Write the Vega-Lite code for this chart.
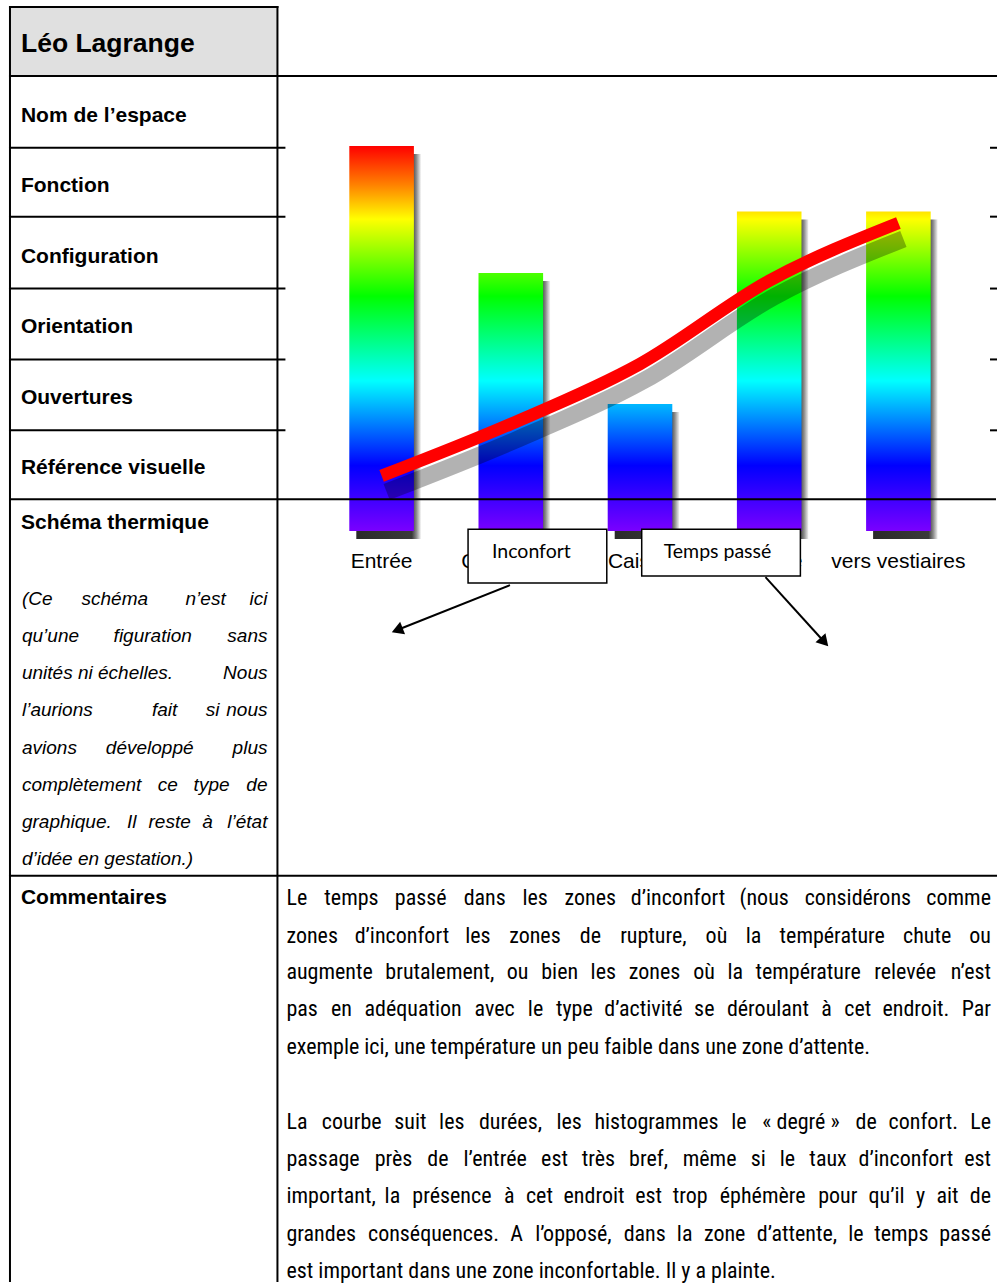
{
  "$schema": "https://vega.github.io/schema/vega-lite/v6.json",
  "width": 998,
  "height": 1283,
  "autosize": {"type": "fit", "contains": "padding"},
  "padding": 0,
  "background": "white",
  "config": {"view": {"stroke": null}, "font": "Liberation Sans"},
  "datasets": {
    "zones": [
      {"zone": "Entrée", "inconfort": 100, "duree": 14.3},
      {"zone": "Circulation", "inconfort": 67, "duree": 27.8},
      {"zone": "Caisse", "inconfort": 33, "duree": 43.4},
      {"zone": "Attente", "inconfort": 83, "duree": 65},
      {"zone": "vers vestiaires", "inconfort": 83, "duree": 80}
    ],
    "header": [{"x1": 10, "x2": 278, "y1": 7, "y2": 76, "t": "Léo Lagrange", "tx": 21, "ty": 44}],
    "rules": [
      {"x1": 10, "x2": 278, "y1": 7, "y2": 7},
      {"x1": 10, "x2": 10, "y1": 7, "y2": 1283},
      {"x1": 278, "x2": 278, "y1": 7, "y2": 1283},
      {"x1": 10, "x2": 998, "y1": 76, "y2": 76},
      {"x1": 10, "x2": 285, "y1": 148, "y2": 148},
      {"x1": 993, "x2": 998, "y1": 148, "y2": 148},
      {"x1": 10, "x2": 285, "y1": 217, "y2": 217},
      {"x1": 993, "x2": 998, "y1": 217, "y2": 217},
      {"x1": 10, "x2": 285, "y1": 289, "y2": 289},
      {"x1": 993, "x2": 998, "y1": 289, "y2": 289},
      {"x1": 10, "x2": 285, "y1": 360, "y2": 360},
      {"x1": 993, "x2": 998, "y1": 360, "y2": 360},
      {"x1": 10, "x2": 285, "y1": 431, "y2": 431},
      {"x1": 993, "x2": 998, "y1": 431, "y2": 431},
      {"x1": 10, "x2": 998, "y1": 877, "y2": 877}
    ],
    "labels": [
      {"t": "Nom de l’espace", "x": 21, "y": 116},
      {"t": "Fonction", "x": 21, "y": 186},
      {"t": "Configuration", "x": 21, "y": 257},
      {"t": "Orientation", "x": 21, "y": 328},
      {"t": "Ouvertures", "x": 21, "y": 399},
      {"t": "Référence visuelle", "x": 21, "y": 469},
      {"t": "Schéma thermique", "x": 21, "y": 524},
      {"t": "Commentaires", "x": 21, "y": 899}
    ],
    "italic": [
      {"t": "(Ce", "x": 22, "y": 600, "pos": "L"},
      {"t": "schéma", "x": 115, "y": 600, "pos": "C"},
      {"t": "n’est", "x": 206, "y": 600, "pos": "C"},
      {"t": "ici", "x": 268, "y": 600, "pos": "R"},
      {"t": "qu’une", "x": 22, "y": 637, "pos": "L"},
      {"t": "figuration", "x": 153, "y": 637, "pos": "C"},
      {"t": "sans", "x": 268, "y": 637, "pos": "R"},
      {"t": "unités ni échelles.", "x": 22, "y": 674, "pos": "L"},
      {"t": "Nous", "x": 268, "y": 674, "pos": "R"},
      {"t": "l’aurions", "x": 22, "y": 711, "pos": "L"},
      {"t": "fait", "x": 165, "y": 711, "pos": "C"},
      {"t": "si", "x": 213, "y": 711, "pos": "C"},
      {"t": "nous", "x": 268, "y": 711, "pos": "R"},
      {"t": "avions", "x": 22, "y": 749, "pos": "L"},
      {"t": "développé", "x": 150, "y": 749, "pos": "C"},
      {"t": "plus", "x": 268, "y": 749, "pos": "R"},
      {"t": "complètement", "x": 22, "y": 786, "pos": "L"},
      {"t": "ce", "x": 168, "y": 786, "pos": "C"},
      {"t": "type", "x": 212, "y": 786, "pos": "C"},
      {"t": "de", "x": 268, "y": 786, "pos": "R"},
      {"t": "graphique.", "x": 22, "y": 823, "pos": "L"},
      {"t": "Il", "x": 132, "y": 823, "pos": "C"},
      {"t": "reste", "x": 170, "y": 823, "pos": "C"},
      {"t": "à", "x": 208, "y": 823, "pos": "C"},
      {"t": "l’état", "x": 268, "y": 823, "pos": "R"},
      {"t": "d’idée en gestation.)", "x": 22, "y": 860, "pos": "L"}
    ],
    "comments": [
      {"t": "Le", "x": 287, "y": 899, "pos": "L"},
      {"t": "temps", "x": 352.2, "y": 899, "pos": "C"},
      {"t": "passé", "x": 421.6, "y": 899, "pos": "C"},
      {"t": "dans", "x": 485.7, "y": 899, "pos": "C"},
      {"t": "les", "x": 536.2, "y": 899, "pos": "C"},
      {"t": "zones", "x": 591.5, "y": 899, "pos": "C"},
      {"t": "d’inconfort", "x": 679.4, "y": 899, "pos": "C"},
      {"t": "(nous", "x": 765.7, "y": 899, "pos": "C"},
      {"t": "considérons", "x": 859.6, "y": 899, "pos": "C"},
      {"t": "comme", "x": 993, "y": 899, "pos": "R"},

      {"t": "zones", "x": 287, "y": 937, "pos": "L"},
      {"t": "d’inconfort", "x": 402.7, "y": 937, "pos": "C"},
      {"t": "les", "x": 478.9, "y": 937, "pos": "C"},
      {"t": "zones", "x": 536, "y": 937, "pos": "C"},
      {"t": "de", "x": 591.6, "y": 937, "pos": "C"},
      {"t": "rupture,", "x": 654.7, "y": 937, "pos": "C"},
      {"t": "où", "x": 717.9, "y": 937, "pos": "C"},
      {"t": "la", "x": 755, "y": 937, "pos": "C"},
      {"t": "température", "x": 833.9, "y": 937, "pos": "C"},
      {"t": "chute", "x": 929, "y": 937, "pos": "C"},
      {"t": "ou", "x": 993, "y": 937, "pos": "R"},

      {"t": "augmente", "x": 287, "y": 974, "pos": "L"},
      {"t": "brutalement,", "x": 440.7, "y": 974, "pos": "C"},
      {"t": "ou", "x": 518.6, "y": 974, "pos": "C"},
      {"t": "bien", "x": 560.8, "y": 974, "pos": "C"},
      {"t": "les", "x": 604.5, "y": 974, "pos": "C"},
      {"t": "zones", "x": 655.8, "y": 974, "pos": "C"},
      {"t": "où", "x": 705.5, "y": 974, "pos": "C"},
      {"t": "la", "x": 736.7, "y": 974, "pos": "C"},
      {"t": "température", "x": 809.7, "y": 974, "pos": "C"},
      {"t": "relevée", "x": 907, "y": 974, "pos": "C"},
      {"t": "n’est", "x": 993, "y": 974, "pos": "R"},

      {"t": "pas", "x": 287, "y": 1011, "pos": "L"},
      {"t": "en", "x": 342.1, "y": 1011, "pos": "C"},
      {"t": "adéquation", "x": 414, "y": 1011, "pos": "C"},
      {"t": "avec", "x": 495.6, "y": 1011, "pos": "C"},
      {"t": "le", "x": 536.6, "y": 1011, "pos": "C"},
      {"t": "type", "x": 575.5, "y": 1011, "pos": "C"},
      {"t": "d’activité", "x": 644.7, "y": 1011, "pos": "C"},
      {"t": "se", "x": 705.7, "y": 1011, "pos": "C"},
      {"t": "déroulant", "x": 769.5, "y": 1011, "pos": "C"},
      {"t": "à", "x": 828.3, "y": 1011, "pos": "C"},
      {"t": "cet", "x": 859.5, "y": 1011, "pos": "C"},
      {"t": "endroit.", "x": 917.7, "y": 1011, "pos": "C"},
      {"t": "Par", "x": 993, "y": 1011, "pos": "R"},

      {"t": "exemple ici, une température un peu faible dans une zone d’attente.", "x": 287, "y": 1049, "pos": "L"},

      {"t": "La", "x": 287, "y": 1124, "pos": "L"},
      {"t": "courbe", "x": 352.4, "y": 1124, "pos": "C"},
      {"t": "suit", "x": 411.2, "y": 1124, "pos": "C"},
      {"t": "les", "x": 452.7, "y": 1124, "pos": "C"},
      {"t": "durées,", "x": 511.5, "y": 1124, "pos": "C"},
      {"t": "les", "x": 570.3, "y": 1124, "pos": "C"},
      {"t": "histogrammes", "x": 657.8, "y": 1124, "pos": "C"},
      {"t": "le", "x": 740.4, "y": 1124, "pos": "C"},
      {"t": "« degré »", "x": 802.6, "y": 1124, "pos": "C"},
      {"t": "de", "x": 867.9, "y": 1124, "pos": "C"},
      {"t": "confort.", "x": 925.1, "y": 1124, "pos": "C"},
      {"t": "Le", "x": 993, "y": 1124, "pos": "R"},

      {"t": "passage", "x": 287, "y": 1161, "pos": "L"},
      {"t": "près", "x": 394.3, "y": 1161, "pos": "C"},
      {"t": "de", "x": 438.7, "y": 1161, "pos": "C"},
      {"t": "l’entrée", "x": 496.1, "y": 1161, "pos": "C"},
      {"t": "est", "x": 555.6, "y": 1161, "pos": "C"},
      {"t": "très", "x": 599.5, "y": 1161, "pos": "C"},
      {"t": "bref,", "x": 649.8, "y": 1161, "pos": "C"},
      {"t": "même", "x": 711, "y": 1161, "pos": "C"},
      {"t": "si", "x": 759.8, "y": 1161, "pos": "C"},
      {"t": "le", "x": 789, "y": 1161, "pos": "C"},
      {"t": "taux", "x": 829.7, "y": 1161, "pos": "C"},
      {"t": "d’inconfort", "x": 907.7, "y": 1161, "pos": "C"},
      {"t": "est", "x": 993, "y": 1161, "pos": "R"},

      {"t": "important,", "x": 287, "y": 1198, "pos": "L"},
      {"t": "la", "x": 393.2, "y": 1198, "pos": "C"},
      {"t": "présence", "x": 452.8, "y": 1198, "pos": "C"},
      {"t": "à", "x": 510.2, "y": 1198, "pos": "C"},
      {"t": "cet", "x": 540.5, "y": 1198, "pos": "C"},
      {"t": "endroit", "x": 595.2, "y": 1198, "pos": "C"},
      {"t": "est", "x": 649.9, "y": 1198, "pos": "C"},
      {"t": "trop", "x": 691.6, "y": 1198, "pos": "C"},
      {"t": "éphémère", "x": 764.2, "y": 1198, "pos": "C"},
      {"t": "pour", "x": 839.5, "y": 1198, "pos": "C"},
      {"t": "qu’il", "x": 888.3, "y": 1198, "pos": "C"},
      {"t": "y", "x": 922.4, "y": 1198, "pos": "C"},
      {"t": "ait", "x": 949.4, "y": 1198, "pos": "C"},
      {"t": "de", "x": 993, "y": 1198, "pos": "R"},

      {"t": "grandes", "x": 287, "y": 1236, "pos": "L"},
      {"t": "conséquences.", "x": 434.4, "y": 1236, "pos": "C"},
      {"t": "A", "x": 517.7, "y": 1236, "pos": "C"},
      {"t": "l’opposé,", "x": 574.5, "y": 1236, "pos": "C"},
      {"t": "dans", "x": 646, "y": 1236, "pos": "C"},
      {"t": "la", "x": 686, "y": 1236, "pos": "C"},
      {"t": "zone", "x": 726.1, "y": 1236, "pos": "C"},
      {"t": "d’attente,", "x": 798.6, "y": 1236, "pos": "C"},
      {"t": "le", "x": 857.6, "y": 1236, "pos": "C"},
      {"t": "temps", "x": 903.1, "y": 1236, "pos": "C"},
      {"t": "passé", "x": 993, "y": 1236, "pos": "R"},

      {"t": "est important dans une zone inconfortable. Il y a plainte.", "x": 287, "y": 1273, "pos": "L"}
    ],
    "overlayRules": [
      {"x1": 10, "x2": 998, "y1": 500, "y2": 500}
    ],
    "boxes": [
      {"x1": 469, "x2": 608, "y1": 530, "y2": 584, "t": "Inconfort", "tx": 493, "ty": 553},
      {"x1": 643, "x2": 802, "y1": 530, "y2": 577, "t": "Temps passé", "tx": 665, "ty": 553}
    ],
    "arrows": [
      {"x1": 511, "y1": 586, "x2": 398, "y2": 631, "a": "inconfort"},
      {"x1": 767, "y1": 578, "x2": 826, "y2": 643, "a": "temps"}
    ]
  },
  "layer": [
    {
      "layer": [
        {
          "data": {"name": "header"},
          "mark": {"type": "rect", "fill": "#e0e0e0"},
          "encoding": {
            "x": {"field": "x1", "type": "quantitative", "scale": {"domain": [0, 998], "nice": false, "zero": false}, "axis": null},
            "x2": {"field": "x2"},
            "y": {"field": "y1", "type": "quantitative", "scale": {"domain": [0, 1283], "nice": false, "zero": false, "reverse": true}, "axis": null},
            "y2": {"field": "y2"}
          }
        },
        {
          "data": {"name": "rules"},
          "mark": {"type": "rule", "color": "#000000", "strokeWidth": 2, "strokeCap": "square"},
          "encoding": {
            "x": {"field": "x1", "type": "quantitative", "scale": {"domain": [0, 998], "nice": false, "zero": false}, "axis": null},
            "x2": {"field": "x2"},
            "y": {"field": "y1", "type": "quantitative", "scale": {"domain": [0, 1283], "nice": false, "zero": false, "reverse": true}, "axis": null},
            "y2": {"field": "y2"}
          }
        },
        {
          "data": {"name": "header"},
          "mark": {"type": "text", "align": "left", "baseline": "middle", "fontSize": 26.5, "fontWeight": "bold", "font": "Liberation Sans", "color": "#000000"},
          "encoding": {
            "x": {"field": "tx", "type": "quantitative", "axis": null},
            "y": {"field": "ty", "type": "quantitative", "axis": null},
            "text": {"field": "t"}
          }
        },
        {
          "data": {"name": "labels"},
          "mark": {"type": "text", "align": "left", "baseline": "middle", "fontSize": 21, "fontWeight": "bold", "font": "Liberation Sans", "color": "#000000"},
          "encoding": {
            "x": {"field": "x", "type": "quantitative", "axis": null},
            "y": {"field": "y", "type": "quantitative", "axis": null},
            "text": {"field": "t"}
          }
        },
        {
          "data": {"name": "italic"},
          "transform": [{"filter": "datum.pos === 'L'"}],
          "mark": {"type": "text", "align": "left", "baseline": "middle", "fontSize": 19, "fontStyle": "italic", "font": "Liberation Sans", "color": "#000000"},
          "encoding": {
            "x": {"field": "x", "type": "quantitative", "axis": null},
            "y": {"field": "y", "type": "quantitative", "axis": null},
            "text": {"field": "t"}
          }
        },
        {
          "data": {"name": "italic"},
          "transform": [{"filter": "datum.pos === 'C'"}],
          "mark": {"type": "text", "align": "center", "baseline": "middle", "fontSize": 19, "fontStyle": "italic", "font": "Liberation Sans", "color": "#000000"},
          "encoding": {
            "x": {"field": "x", "type": "quantitative", "axis": null},
            "y": {"field": "y", "type": "quantitative", "axis": null},
            "text": {"field": "t"}
          }
        },
        {
          "data": {"name": "italic"},
          "transform": [{"filter": "datum.pos === 'R'"}],
          "mark": {"type": "text", "align": "right", "baseline": "middle", "fontSize": 19, "fontStyle": "italic", "font": "Liberation Sans", "color": "#000000"},
          "encoding": {
            "x": {"field": "x", "type": "quantitative", "axis": null},
            "y": {"field": "y", "type": "quantitative", "axis": null},
            "text": {"field": "t"}
          }
        },
        {
          "data": {"name": "comments"},
          "transform": [{"filter": "datum.pos === 'L'"}],
          "mark": {"type": "text", "align": "left", "baseline": "middle", "fontSize": 22, "font": "Roboto Condensed", "color": "#000000"},
          "encoding": {
            "x": {"field": "x", "type": "quantitative", "axis": null},
            "y": {"field": "y", "type": "quantitative", "axis": null},
            "text": {"field": "t"}
          }
        },
        {
          "data": {"name": "comments"},
          "transform": [{"filter": "datum.pos === 'C'"}],
          "mark": {"type": "text", "align": "center", "baseline": "middle", "fontSize": 22, "font": "Roboto Condensed", "color": "#000000"},
          "encoding": {
            "x": {"field": "x", "type": "quantitative", "axis": null},
            "y": {"field": "y", "type": "quantitative", "axis": null},
            "text": {"field": "t"}
          }
        },
        {
          "data": {"name": "comments"},
          "transform": [{"filter": "datum.pos === 'R'"}],
          "mark": {"type": "text", "align": "right", "baseline": "middle", "fontSize": 22, "font": "Roboto Condensed", "color": "#000000"},
          "encoding": {
            "x": {"field": "x", "type": "quantitative", "axis": null},
            "y": {"field": "y", "type": "quantitative", "axis": null},
            "text": {"field": "t"}
          }
        }
      ]
    },
    {
      "data": {"name": "zones"},
      "encoding": {
        "x": {"field": "zone", "type": "nominal", "sort": null, "axis": null,
          "scale": {"type": "band", "domain": ["Entrée", "Circulation", "Caisse", "Attente", "vers vestiaires"], "range": [317, 963], "paddingInner": 0.5, "paddingOuter": 0.25}},
        "y": {"type": "quantitative", "axis": null, "scale": {"domain": [0, 100], "range": [531, 146], "nice": false, "zero": true}}
      },
      "layer": [
        {
          "mark": {"type": "bar", "xOffset": 7, "yOffset": 8, "y2Offset": -8,
            "color": {"gradient": "linear", "x1": 0, "x2": 1, "y1": 0, "y2": 0,
              "stops": [{"offset": 0, "color": "#2a2a2a"}, {"offset": 0.86, "color": "#3a3a3a"}, {"offset": 0.93, "color": "#8a8a8a"}, {"offset": 1, "color": "#f4f4f4"}]}},
          "encoding": {"y": {"field": "inconfort", "type": "quantitative"}}
        },
        {
          "transform": [{"filter": "datum.zone === 'Entrée'"}],
          "mark": {"type": "bar",
            "color": {"gradient": "linear", "x1": 0, "x2": 0, "y1": 0, "y2": 1,
              "stops": [{"offset": 0, "color": "#ff0000"}, {"offset": 0.1, "color": "#ff8000"}, {"offset": 0.19, "color": "#ffff00"}, {"offset": 0.39, "color": "#00ff00"}, {"offset": 0.61, "color": "#00ffff"}, {"offset": 0.83, "color": "#0000ff"}, {"offset": 1, "color": "#7a00ff"}]}},
          "encoding": {"y": {"field": "inconfort", "type": "quantitative"}}
        },
        {
          "transform": [{"filter": "datum.zone === 'Circulation'"}],
          "mark": {"type": "bar",
            "color": {"gradient": "linear", "x1": 0, "x2": 0, "y1": -0.4925, "y2": 1,
              "stops": [{"offset": 0, "color": "#ff0000"}, {"offset": 0.1, "color": "#ff8000"}, {"offset": 0.19, "color": "#ffff00"}, {"offset": 0.39, "color": "#00ff00"}, {"offset": 0.61, "color": "#00ffff"}, {"offset": 0.83, "color": "#0000ff"}, {"offset": 1, "color": "#7a00ff"}]}},
          "encoding": {"y": {"field": "inconfort", "type": "quantitative"}}
        },
        {
          "transform": [{"filter": "datum.zone === 'Caisse'"}],
          "mark": {"type": "bar",
            "color": {"gradient": "linear", "x1": 0, "x2": 0, "y1": -2.0303, "y2": 1,
              "stops": [{"offset": 0, "color": "#ff0000"}, {"offset": 0.1, "color": "#ff8000"}, {"offset": 0.19, "color": "#ffff00"}, {"offset": 0.39, "color": "#00ff00"}, {"offset": 0.61, "color": "#00ffff"}, {"offset": 0.83, "color": "#0000ff"}, {"offset": 1, "color": "#7a00ff"}]}},
          "encoding": {"y": {"field": "inconfort", "type": "quantitative"}}
        },
        {
          "transform": [{"filter": "datum.zone === 'Attente' || datum.zone === 'vers vestiaires'"}],
          "mark": {"type": "bar",
            "color": {"gradient": "linear", "x1": 0, "x2": 0, "y1": -0.2048, "y2": 1,
              "stops": [{"offset": 0, "color": "#ff0000"}, {"offset": 0.1, "color": "#ff8000"}, {"offset": 0.19, "color": "#ffff00"}, {"offset": 0.39, "color": "#00ff00"}, {"offset": 0.61, "color": "#00ffff"}, {"offset": 0.83, "color": "#0000ff"}, {"offset": 1, "color": "#7a00ff"}]}},
          "encoding": {"y": {"field": "inconfort", "type": "quantitative"}}
        },
        {
          "mark": {"type": "line", "interpolate": "monotone", "color": "#000000", "opacity": 0.3, "strokeWidth": 17, "xOffset": 5, "yOffset": 16},
          "encoding": {"y": {"field": "duree", "type": "quantitative"}}
        },
        {
          "mark": {"type": "line", "interpolate": "monotone", "color": "#ff0000", "strokeWidth": 12.5, "strokeCap": "butt"},
          "encoding": {"y": {"field": "duree", "type": "quantitative"}}
        },
        {
          "mark": {"type": "text", "baseline": "middle", "align": "center", "dy": 31, "fontSize": 21, "font": "Liberation Sans", "color": "#000000"},
          "encoding": {"y": {"datum": 0}, "text": {"field": "zone"}}
        }
      ]
    },
    {
      "layer": [
        {
          "data": {"name": "overlayRules"},
          "mark": {"type": "rule", "color": "#000000", "strokeWidth": 2},
          "encoding": {
            "x": {"field": "x1", "type": "quantitative", "scale": {"domain": [0, 998], "nice": false, "zero": false}, "axis": null},
            "x2": {"field": "x2"},
            "y": {"field": "y1", "type": "quantitative", "scale": {"domain": [0, 1283], "nice": false, "zero": false, "reverse": true}, "axis": null},
            "y2": {"field": "y2"}
          }
        },
        {
          "data": {"name": "boxes"},
          "mark": {"type": "rect", "fill": "#ffffff", "stroke": "#000000", "strokeWidth": 1.5},
          "encoding": {
            "x": {"field": "x1", "type": "quantitative", "axis": null},
            "x2": {"field": "x2"},
            "y": {"field": "y1", "type": "quantitative", "axis": null},
            "y2": {"field": "y2"}
          }
        },
        {
          "data": {"name": "boxes"},
          "mark": {"type": "text", "align": "left", "baseline": "middle", "fontSize": 19.5, "font": "Lato", "color": "#000000"},
          "encoding": {
            "x": {"field": "tx", "type": "quantitative", "axis": null},
            "y": {"field": "ty", "type": "quantitative", "axis": null},
            "text": {"field": "t"}
          }
        },
        {
          "data": {"name": "arrows"},
          "mark": {"type": "rule", "color": "#000000", "strokeWidth": 2},
          "encoding": {
            "x": {"field": "x1", "type": "quantitative", "axis": null},
            "x2": {"field": "x2"},
            "y": {"field": "y1", "type": "quantitative", "axis": null},
            "y2": {"field": "y2"}
          }
        },
        {
          "data": {"name": "arrows"},
          "transform": [{"filter": "datum.a === 'inconfort'"}],
          "mark": {"type": "point", "shape": "triangle-up", "filled": true, "color": "#000000", "opacity": 1, "size": 180, "angle": 248.6},
          "encoding": {
            "x": {"field": "x2", "type": "quantitative", "axis": null},
            "y": {"field": "y2", "type": "quantitative", "axis": null}
          }
        },
        {
          "data": {"name": "arrows"},
          "transform": [{"filter": "datum.a === 'temps'"}],
          "mark": {"type": "point", "shape": "triangle-up", "filled": true, "color": "#000000", "opacity": 1, "size": 180, "angle": 138},
          "encoding": {
            "x": {"field": "x2", "type": "quantitative", "axis": null},
            "y": {"field": "y2", "type": "quantitative", "axis": null}
          }
        }
      ]
    }
  ],
  "resolve": {"scale": {"x": "independent", "y": "independent"}}
}
